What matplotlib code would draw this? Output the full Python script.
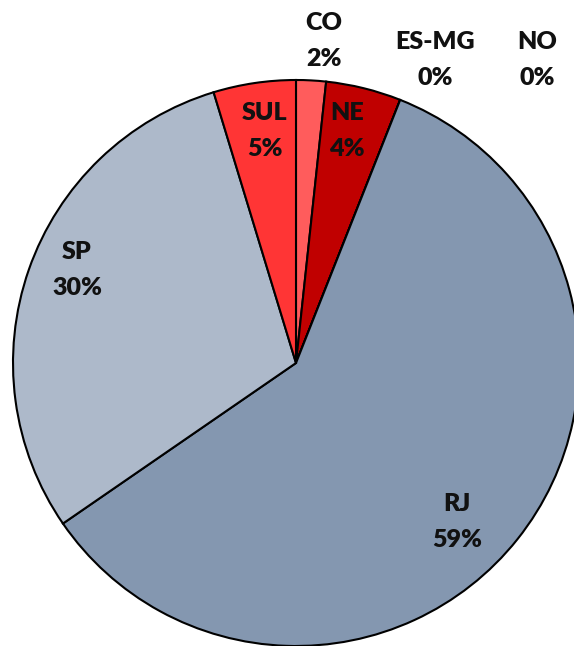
import matplotlib
matplotlib.use("Agg")
import matplotlib.pyplot as plt

# region shares (percent), clockwise from the top
regions = ["CO", "NE", "ES-MG", "NO", "RJ", "SP", "SUL"]
shares = [1.7, 4.3, 0.0, 0.0, 59.4, 29.9, 4.7]
colors = ["#FF5C5C", "#C00000", "#8497B0", "#8497B0", "#8497B0", "#ADB9CA", "#FF3535"]

# label centres in pixel coords (x from left, y from top)
label_pos = {
    "CO": (324, 41),
    "NE": (347, 131),
    "ES-MG": (435, 60),
    "NO": (537, 60),
    "RJ": (457, 522),
    "SP": (77, 270),
    "SUL": (265, 131),
}

W, H = 574, 646
fig = plt.figure(figsize=(W / 100, H / 100), dpi=100)
ax = fig.add_axes([0, 0, 1, 1])

cx, cy, r = 296, H - 363, 283
ax.pie(shares, colors=colors, startangle=90, counterclock=False,
       center=(cx, cy), radius=r,
       wedgeprops=dict(edgecolor="black", linewidth=1.5))

for name, val in zip(regions, shares):
    px, py = label_pos[name]
    ax.text(px, H - py, f"{name}\n{val:.0f}%", ha="center", va="center",
            fontsize=18, fontweight="heavy", family=["Lato", "DejaVu Sans"],
            color="#111111", linespacing=1.8)

ax.set_xlim(0, W)
ax.set_ylim(0, H)
ax.set_aspect("equal", adjustable="box")
ax.axis("off")

fig.savefig("out.png", dpi=100, facecolor="white")
